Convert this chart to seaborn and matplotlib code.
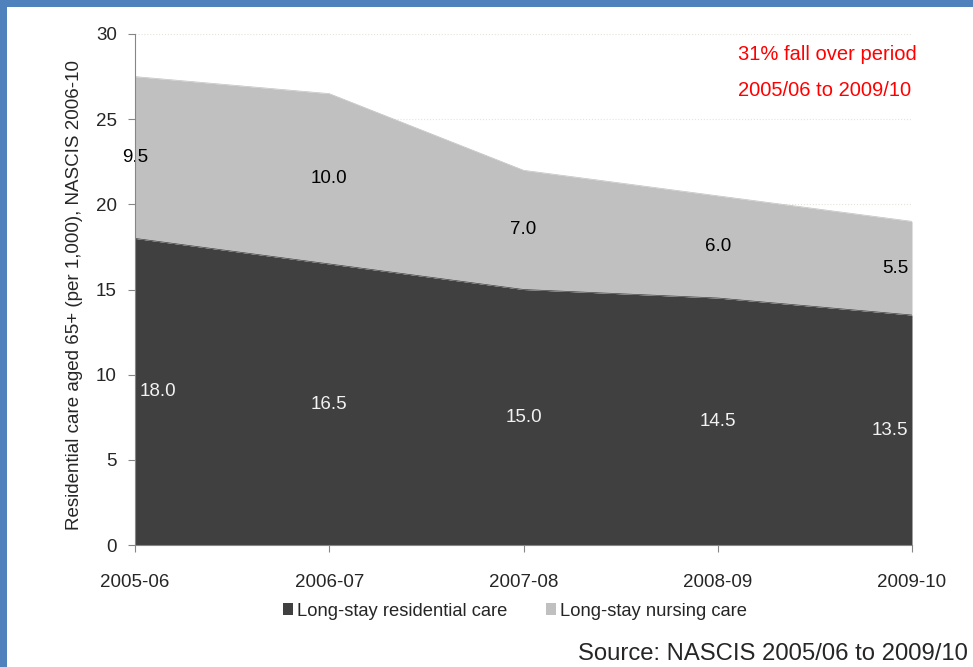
import numpy as np
import pandas as pd
import matplotlib
matplotlib.use("Agg")
import matplotlib.pyplot as plt
import seaborn as sns
from matplotlib.patches import Rectangle, Patch

# %%
years = ["2005-06", "2006-07", "2007-08", "2008-09", "2009-10"]
residential = [18.0, 16.5, 15.0, 14.5, 13.5]
nursing = [9.5, 10.0, 7.0, 6.0, 5.5]
series_names = ["Long-stay residential care", "Long-stay nursing care"]

dark = "#404040"
light = "#C0C0C0"

# %%
sns.set_style("white")
plt.rcParams["font.family"] = ["Liberation Sans", "DejaVu Sans"]

df = pd.DataFrame({"year": years, "residential": residential, "nursing": nursing})
df["x"] = np.arange(len(df))
df["top"] = df["residential"] + df["nursing"]

fig = plt.figure(figsize=(9.73, 6.67), dpi=100)
ax = fig.add_axes([135 / 973, 1 - 545 / 667, (912 - 135) / 973, (545 - 34) / 667])

# faint dotted gridlines behind the areas
for v in range(5, 31, 5):
    ax.axhline(v, color="#e4e4dc", lw=0.8, ls=":", zorder=0)

ax.fill_between(df["x"], 0, df["residential"], color=dark, lw=0, zorder=1)
ax.fill_between(df["x"], df["residential"], df["top"], color=light, lw=0, zorder=1)
sns.lineplot(data=df, x="x", y="residential", color=dark, lw=0.5, ax=ax, zorder=2)
sns.lineplot(data=df, x="x", y="top", color=light, lw=0.5, ax=ax, zorder=2)

# data labels
n = len(df)
for i in range(n):
    if i == 0:
        dx_d, ha_d, dx_l, ha_l = 5, "left", 0, "center"
    elif i == n - 1:
        dx_d, ha_d, dx_l, ha_l = -4, "right", -4, "right"
    else:
        dx_d, ha_d, dx_l, ha_l = 0, "center", 0, "center"
    ax.annotate(f"{df['residential'][i]:.1f}", (i, df["residential"][i] / 2),
                xytext=(dx_d, 0), textcoords="offset pixels", ha=ha_d, va="center",
                color="#f2f2f2", fontsize=13.5, zorder=3)
    ax.annotate(f"{df['nursing'][i]:.1f}", (i, df["residential"][i] + df["nursing"][i] / 2),
                xytext=(dx_l, 0), textcoords="offset pixels", ha=ha_l, va="center",
                color="black", fontsize=13.5, zorder=3)

ax.set_xlim(0, n - 1)
ax.set_ylim(0, 30)
ax.set_xticks(df["x"])
ax.set_xticklabels(years)
ax.set_yticks(range(0, 31, 5))
ax.tick_params(axis="both", labelsize=13.5, length=5, width=0.8, color="#868686",
               direction="out", left=True, bottom=True)
ax.tick_params(axis="x", pad=16)
ax.tick_params(axis="y", pad=8)
for s in ["top", "right"]:
    ax.spines[s].set_visible(False)
for s in ["left", "bottom"]:
    ax.spines[s].set_color("#868686")
    ax.spines[s].set_linewidth(0.8)
    ax.spines[s].set_zorder(4)
ax.set_xlabel("")
ax.set_ylabel("Residential care aged 65+ (per 1,000), NASCIS 2006-10", fontsize=13.5)
ax.yaxis.set_label_coords(-(135 - 83) / 777, 0.49)

fig.text(738 / 973, 1 - 55 / 667, "31% fall over period", color="red",
         fontsize=14.5, va="center", ha="left")
fig.text(738 / 973, 1 - 90 / 667, "2005/06 to 2009/10", color="red",
         fontsize=14.5, va="center", ha="left")

handles = [Patch(facecolor=dark, edgecolor="none"), Patch(facecolor=light, edgecolor="none")]
fig.legend(handles, series_names, loc="center", bbox_to_anchor=(515 / 973, 1 - 611 / 667),
           ncol=2, frameon=False, fontsize=13.2, handlelength=0.55, handleheight=0.55,
           handletextpad=0.2, columnspacing=2.1)

fig.text(968 / 973, 1 - 654 / 667, "Source: NASCIS 2005/06 to 2009/10",
         fontsize=17.2, ha="right", va="center")

# blue frame on top and left edges
fig.patches.append(Rectangle((0, 1 - 7 / 667), 1, 7 / 667, transform=fig.transFigure,
                             facecolor="#4F81BD", edgecolor="none", zorder=10))
fig.patches.append(Rectangle((0, 0), 7 / 973, 1, transform=fig.transFigure,
                             facecolor="#4F81BD", edgecolor="none", zorder=10))

fig.savefig("out.png", dpi=100)
